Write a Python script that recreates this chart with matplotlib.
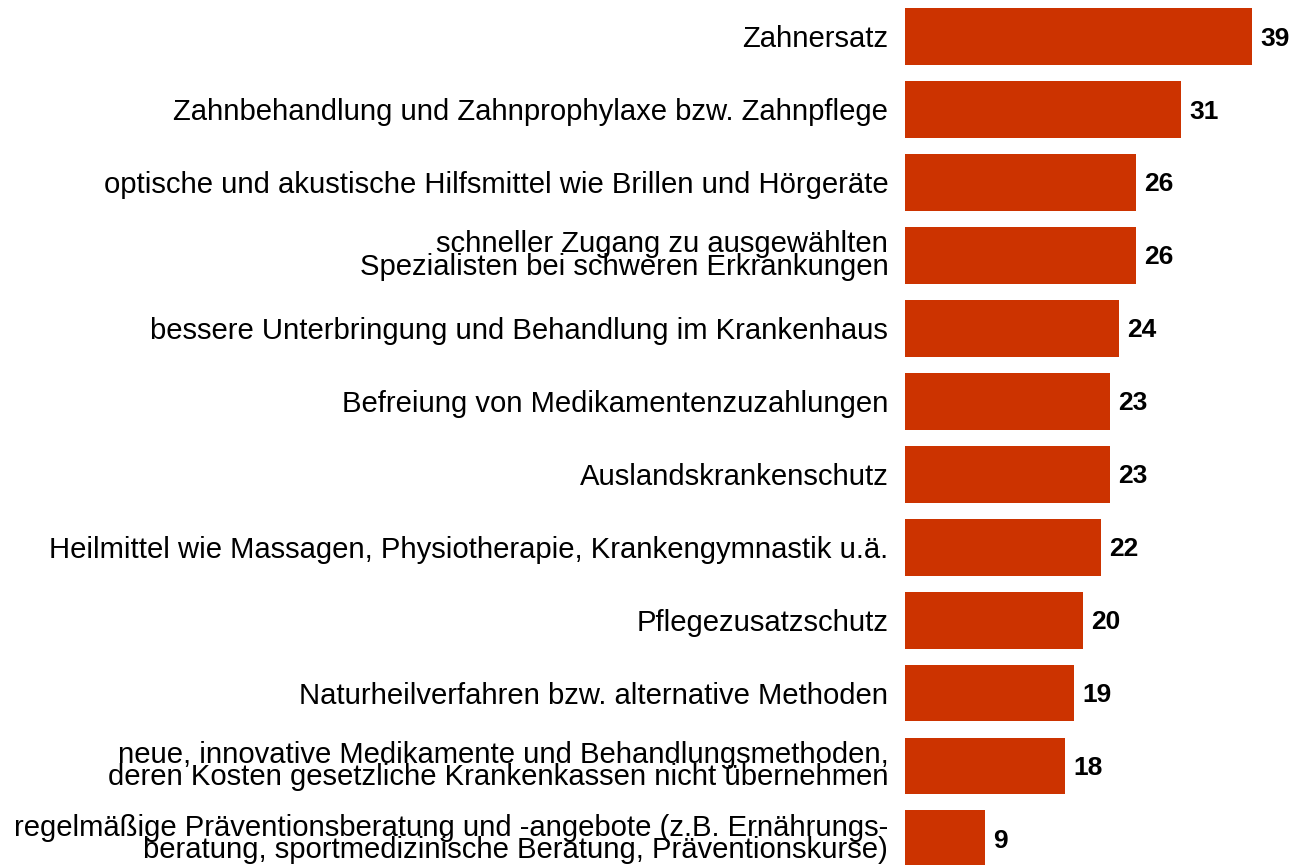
import matplotlib
matplotlib.use("Agg")
import matplotlib.pyplot as plt

plt.rcParams['font.family'] = ['Liberation Sans', 'DejaVu Sans']

labels = [
    "Zahnersatz",
    "Zahnbehandlung und Zahnprophylaxe bzw. Zahnpflege",
    "optische und akustische Hilfsmittel wie Brillen und Hörgeräte",
    "schneller Zugang zu ausgewählten\nSpezialisten bei schweren Erkrankungen",
    "bessere Unterbringung und Behandlung im Krankenhaus",
    "Befreiung von Medikamentenzuzahlungen",
    "Auslandskrankenschutz",
    "Heilmittel wie Massagen, Physiotherapie, Krankengymnastik u.ä.",
    "Pflegezusatzschutz",
    "Naturheilverfahren bzw. alternative Methoden",
    "neue, innovative Medikamente und Behandlungsmethoden,\nderen Kosten gesetzliche Krankenkassen nicht übernehmen",
    "regelmäßige Präventionsberatung und -angebote (z.B. Ernährungs-\nberatung, sportmedizinische Beratung, Präventionskurse)",
]
values = [39, 31, 26, 26, 24, 23, 23, 22, 20, 19, 18, 9]

fig = plt.figure(figsize=(12.93, 8.65), dpi=100)
ax = fig.add_axes([905 / 1293, 0, 388 / 1293, 1])

pos = list(range(len(values)))
ax.barh(pos, values, height=0.78, color="#CC3300")

for p, v in zip(pos, values):
    ax.annotate(str(v), (v, p), xytext=(5.8, -1.5), textcoords="offset points",
                ha="left", va="center", fontsize=19, fontweight="bold")

ax.set_xlim(0, 388 / 8.9)
ax.set_ylim(865 / 72.95 - 0.5, -0.5)
ax.set_yticks(pos)
ax.set_yticklabels(labels, fontsize=21.1, linespacing=0.74)
ax.tick_params(axis="y", length=0, pad=12)
ax.set_xticks([])
for s in ax.spines.values():
    s.set_visible(False)

fig.savefig("out.png", dpi=100)
